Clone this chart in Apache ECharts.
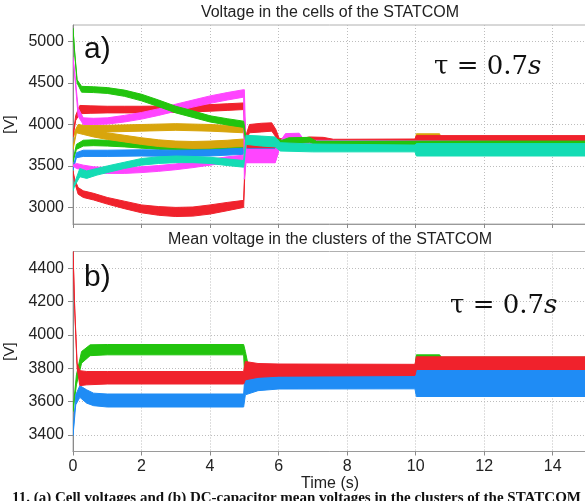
<!DOCTYPE html>
<html><head><meta charset="utf-8">
<script src="https://cdn.jsdelivr.net/npm/echarts@6/dist/echarts.min.js"></script>
<style>html,body{margin:0;padding:0;background:#fff}#c{width:585px;height:501px}</style>
</head><body><div id="c"></div>
<script>
// ---- data: [time (s), lower V, upper V] of each ripple band ----
// Panel a) cell voltages
const greenA = [[0,5150,5160],[0.05,4850,4870],[0.12,4500,4540],[0.25,4390,4460],[0.6,4385,4455],[1,4375,4445],[1.5,4340,4415],[2,4285,4365],[2.5,4215,4295],[3,4140,4220],[3.5,4085,4165],[4,4030,4105],[4.5,3995,4070],[4.98,3965,4040],[5.05,3760,3840],[5.9,3770,3830],[6.1,3770,3810],[6.3,3780,3840],[6.9,3785,3845],[7.1,3760,3800],[15,3760,3800]];
const redA = [[0,3850,3870],[0.08,4050,4110],[0.2,4130,4230],[0.5,4135,4225],[1,4140,4220],[1.5,4140,4220],[2,4140,4220],[2.5,4142,4222],[3,4146,4226],[3.5,4152,4232],[4,4160,4240],[4.5,4170,4250],[4.98,4180,4260],[5.04,3800,3860],[5.15,3900,4000],[5.5,3910,4015],[5.8,3920,4020],[5.92,3850,3940],[6.02,3770,3830],[6.6,3765,3825],[6.9,3790,3850],[7.3,3785,3845],[7.6,3760,3822],[8,3755,3822],[9.98,3750,3825],[10.02,3770,3866],[15,3770,3866]];
const magentaA = [[0,4800,4810],[0.05,4600,4620],[0.15,4100,4200],[0.3,4000,4080],[0.6,4000,4075],[1,4005,4080],[1.5,4030,4110],[2,4065,4145],[2.5,4110,4190],[3,4160,4245],[3.5,4210,4295],[4,4255,4345],[4.5,4295,4385],[4.98,4330,4420],[5.0,3340,4420],[5.05,3540,3700],[5.9,3540,3700],[6.05,3750,3800],[6.2,3810,3890],[6.6,3820,3895],[6.75,3770,3810],[15,3740,3790]];
const goldA = [[0,3850,3870],[0.15,3940,4000],[0.3,3905,3990],[1,3910,3990],[2,3920,4000],[3,3930,4010],[4,3920,4000],[4.98,3900,3980],[5.05,3600,3690],[5.9,3600,3680],[6.05,3720,3780],[9.98,3740,3790],[10.02,3862,3888],[10.7,3862,3888],[10.75,3780,3820],[15,3780,3820]];
const goldB = [[0,3700,3720],[0.1,3900,3960],[0.3,3880,3960],[0.6,3850,3930],[1,3820,3900],[1.5,3790,3870],[2,3760,3840],[2.5,3735,3815],[3,3720,3800],[3.5,3712,3795],[4,3715,3800],[4.5,3725,3810],[4.98,3735,3825],[5.05,3600,3680],[5.9,3610,3680],[6.05,3720,3780],[15,3730,3790]];
const greenB = [[0,3550,3570],[0.1,3700,3760],[0.3,3740,3810],[0.6,3745,3815],[1,3740,3810],[1.5,3730,3800],[2,3715,3790],[2.5,3700,3775],[3,3690,3765],[3.5,3685,3760],[4,3685,3760],[4.5,3690,3765],[4.98,3700,3770],[5.05,3760,3820],[6.05,3760,3800],[15,3740,3790]];
const blueA = [[0,3450,3470],[0.1,3600,3660],[0.3,3615,3690],[1,3615,3690],[2,3620,3695],[3,3615,3690],[4,3620,3695],[4.98,3640,3715],[5.05,3690,3760],[6.05,3700,3760],[15,3700,3760]];
const magentaB = [[0,3500,3510],[0.1,3470,3530],[0.3,3450,3510],[0.6,3420,3490],[1,3410,3480],[1.5,3410,3480],[2,3420,3490],[2.5,3435,3505],[3,3455,3525],[3.5,3480,3550],[4,3510,3580],[4.5,3540,3610],[4.98,3560,3630],[5.05,3540,3700],[5.9,3540,3690],[6.05,3740,3790],[15,3740,3790]];
const turquoiseA = [[0,3200,3220],[0.05,3260,3300],[0.2,3370,3470],[0.4,3350,3440],[0.7,3390,3470],[1,3420,3500],[1.5,3470,3545],[2,3510,3590],[2.5,3530,3610],[3,3540,3620],[3.5,3540,3615],[4,3530,3605],[4.5,3505,3585],[4.98,3485,3565],[5.05,3760,3870],[5.5,3740,3860],[5.9,3730,3850],[6.05,3680,3780],[7,3670,3765],[9.98,3670,3752],[10.02,3620,3770],[15,3620,3770]];
const redB = [[0,3420,3440],[0.05,3300,3340],[0.15,3160,3240],[0.3,3120,3200],[0.6,3090,3170],[1,3040,3120],[1.5,2985,3075],[2,2935,3030],[2.5,2905,3010],[3,2890,3000],[3.5,2895,3005],[4,2920,3030],[4.5,2960,3060],[4.98,3000,3085],[5.04,3720,3790],[15,3720,3790]];
// Panel b) cluster mean voltages
const greenM = [[0,3540,3550],[0.1,3700,3760],[0.25,3830,3900],[0.5,3875,3940],[1,3880,3942],[4.98,3880,3942],[5.03,3660,3900],[5.12,3760,3810],[9.98,3760,3805],[10.02,3862,3880],[10.7,3862,3880],[10.75,3850,3866],[15,3850,3866]];
const blueM = [[0,3395,3405],[0.08,3580,3640],[0.2,3625,3695],[0.4,3590,3670],[0.6,3575,3650],[1,3567,3645],[4.98,3567,3645],[5.03,3640,3790],[5.4,3665,3775],[6,3675,3762],[9.98,3676,3756],[10.02,3630,3792],[15,3630,3792]];
const redM = [[0,4500,4505],[0.05,4150,4160],[0.12,3800,3830],[0.2,3695,3785],[0.4,3700,3780],[1,3705,3780],[4.98,3705,3780],[5.03,3730,3840],[5.4,3745,3828],[6,3752,3825],[9.98,3756,3823],[10.02,3792,3868],[15,3792,3868]];
// tick labels
const xTicks = [0,2,4,6,8,10,12,14];
const yTicksA = [3000,3500,4000,4500,5000];
const yTicksB = [3400,3600,3800,4000,4200,4400];

const C = {green:'#22c40e', red:'#f0222c', magenta:'#ff45ff', gold:'#d8a50c', blue:'#1f8cf5', turq:'#14dcb4'};

function band(pts, color, g) {
  return {
    type:'custom', xAxisIndex:g, yAxisIndex:g, data:pts, encode:{x:0, y:[1,2]},
    clip:true, silent:true,
    renderItem:function(params, api){
      if (params.dataIndex !== 0) return null;
      const top = pts.map(p => api.coord([p[0], p[2]]));
      const bot = pts.map(p => api.coord([p[0], p[1]])).reverse();
      return {type:'polygon', shape:{points: top.concat(bot)}, style:{fill:color, stroke:color, lineWidth:1}};
    }
  };
}

const font = 'Liberation Sans';
const plain = v => String(v);
function yAx(g, min, max, ticks) {
  return {type:'value', gridIndex:g, min:min, max:max,
    axisLine:{show:true, lineStyle:{color:'#8a8a8a'}},
    axisTick:{show:true, length:5, customValues:ticks, lineStyle:{color:'#8a8a8a'}},
    axisLabel:{customValues:ticks, formatter:plain, margin:9, color:'#222', fontSize:16, fontFamily:font},
    splitLine:{show:true, customValues:ticks, lineStyle:{color:'#bdbdbd', type:[1,2]}},
    name:'[V]', nameLocation:'middle', nameGap:52, nameTextStyle:{color:'#222', fontSize:15, fontFamily:font}};
}
function xAx(g, labels) {
  const o = {type:'value', gridIndex:g, min:0, max:15,
    axisLine:{show:true, lineStyle:{color:'#9a9a9a'}},
    axisTick:{show:true, length:4, customValues:xTicks, lineStyle:{color:'#8a8a8a'}},
    axisLabel:{show:labels, customValues:xTicks, formatter:plain, margin:7, color:'#222', fontSize:16, fontFamily:font},
    splitLine:{show:true, customValues:xTicks, lineStyle:{color:'#bdbdbd', type:[1,2]}}};
  if (labels) { o.name = 'Time (s)'; o.nameLocation='middle'; o.nameGap=24; o.nameTextStyle={color:'#222', fontSize:16, fontFamily:font, verticalAlign:'top'}; }
  return o;
}

const chart = echarts.init(document.getElementById('c'), null, {renderer:'canvas'});
chart.setOption({
  animation:false,
  backgroundColor:'#fff',
  grid:[
    {left:73, top:25, width:514, height:199, show:true, borderColor:'#b0b0b0', borderWidth:1, containLabel:false, outerBoundsMode:'none'},
    {left:73, top:251.5, width:514, height:200, show:true, borderColor:'#b0b0b0', borderWidth:1, containLabel:false, outerBoundsMode:'none'}
  ],
  xAxis:[xAx(0,false), xAx(1,true)],
  yAxis:[yAx(0,2800,5200,yTicksA), yAx(1,3300,4500,yTicksB)],
  series:[
    band(greenB,C.green,0), band(blueA,C.blue,0), band(goldB,C.gold,0), band(goldA,C.gold,0),
    band(redB,C.red,0), band(magentaB,C.magenta,0), band(redA,C.red,0), band(magentaA,C.magenta,0),
    band(greenA,C.green,0), band(turquoiseA,C.turq,0),
    band(greenM,C.green,1), band(blueM,C.blue,1), band(redM,C.red,1)
  ],
  graphic:[
    {type:'text', x:330, y:13, z:100, style:{text:'Voltage in the cells of the STATCOM', font:'16px "Liberation Sans"', fill:'#222', textAlign:'center', textVerticalAlign:'middle'}},
    {type:'text', x:330, y:240, z:100, style:{text:'Mean voltage in the clusters of the STATCOM', font:'16px "Liberation Sans"', fill:'#222', textAlign:'center', textVerticalAlign:'middle'}},
    {type:'text', x:84, y:50, z:100, style:{text:'a)', font:'30px "Liberation Sans"', fill:'#111', textAlign:'left', textVerticalAlign:'middle'}},
    {type:'text', x:84, y:278, z:100, style:{text:'b)', font:'30px "Liberation Sans"', fill:'#111', textAlign:'left', textVerticalAlign:'middle'}},
    {type:'text', x:434, y:67, z:100, style:{text:'{n|τ = 0.7}{i|s}', textAlign:'left', textVerticalAlign:'middle', rich:{n:{fontFamily:'DejaVu Serif', fontSize:26, fill:'#111'}, i:{fontFamily:'DejaVu Serif', fontStyle:'italic', fontSize:26, fill:'#111'}}}},
    {type:'text', x:450, y:306, z:100, style:{text:'{n|τ = 0.7}{i|s}', textAlign:'left', textVerticalAlign:'middle', rich:{n:{fontFamily:'DejaVu Serif', fontSize:26, fill:'#111'}, i:{fontFamily:'DejaVu Serif', fontStyle:'italic', fontSize:26, fill:'#111'}}}},
    {type:'text', x:12, y:491, z:100, style:{text:'11. (a) Cell voltages and (b) DC-capacitor mean voltages in the clusters of the STATCOM', font:'bold 15px "Liberation Serif"', fill:'#111', textAlign:'left', textVerticalAlign:'top'}}
  ]
});
</script></body></html>
